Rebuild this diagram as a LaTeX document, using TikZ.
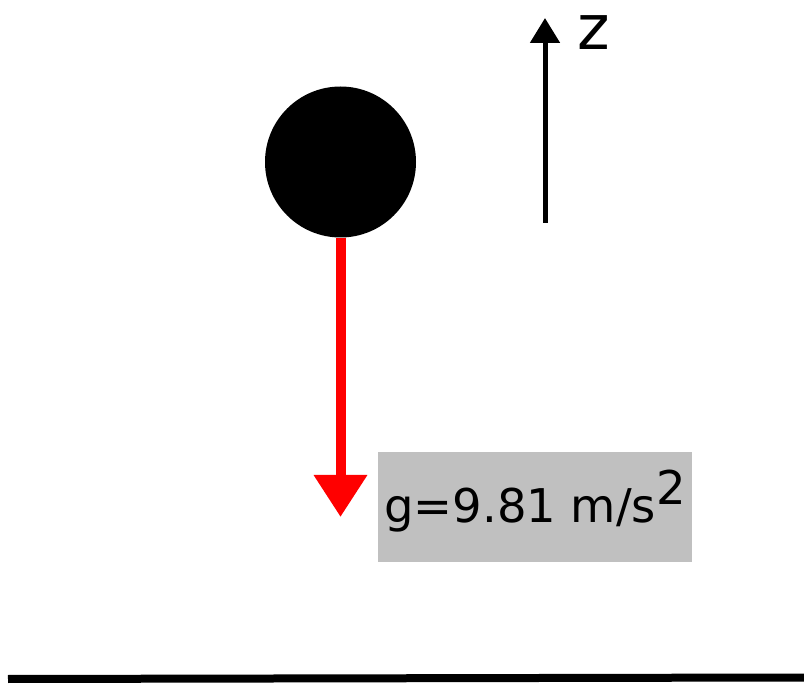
\documentclass[tikz,border=0pt]{standalone}
\usepackage{fontspec}
\setmainfont{DejaVu Sans}
\usetikzlibrary{arrows.meta}
\definecolor{boxgray}{RGB}{192,192,192}
\definecolor{forcered}{RGB}{255,0,0}
\begin{document}
\begin{tikzpicture}[x=1pt,y=-1pt,
  ball/.style={circle,fill=black,draw=none,minimum size=151pt,inner sep=0pt},
  force/.style={draw=forcered,line width=10pt,-{Triangle[width=51pt,length=42pt]},forcered},
  axis/.style={draw=black,line width=5pt,-{Triangle[width=29pt,length=25pt]}},
  gbox/.style={fill=boxgray,draw=none,minimum width=314pt,inner xsep=0pt,inner ysep=0pt,
    text height=71pt,text depth=39pt,font=\fontsize{46.5}{54}\selectfont},
  axlabel/.style={inner sep=0pt,anchor=base west,font=\fontsize{62}{70}\selectfont},
  ground/.style={line width=8pt,draw=black}]
\useasboundingbox (0,0) rectangle (804,684);
\node[ball] (ball) at (340.5,162) {};
\coordinate (gtip) at (340.5,517);
\draw[force] (ball.south) -- (gtip);
\node[gbox] (glabel) at (535,507) {g=9.81 m/s\raisebox{18pt}{2}};
\coordinate (zbase) at (545,223);
\coordinate (ztip) at (545,18);
\draw[axis] (zbase) -- (ztip);
\node[axlabel] (zlabel) at (577,50) {z};
\coordinate (gl) at (8,679);
\coordinate (gr) at (804,677.5);
\draw[ground] (gl) -- (gr);
\end{tikzpicture}
\end{document}
